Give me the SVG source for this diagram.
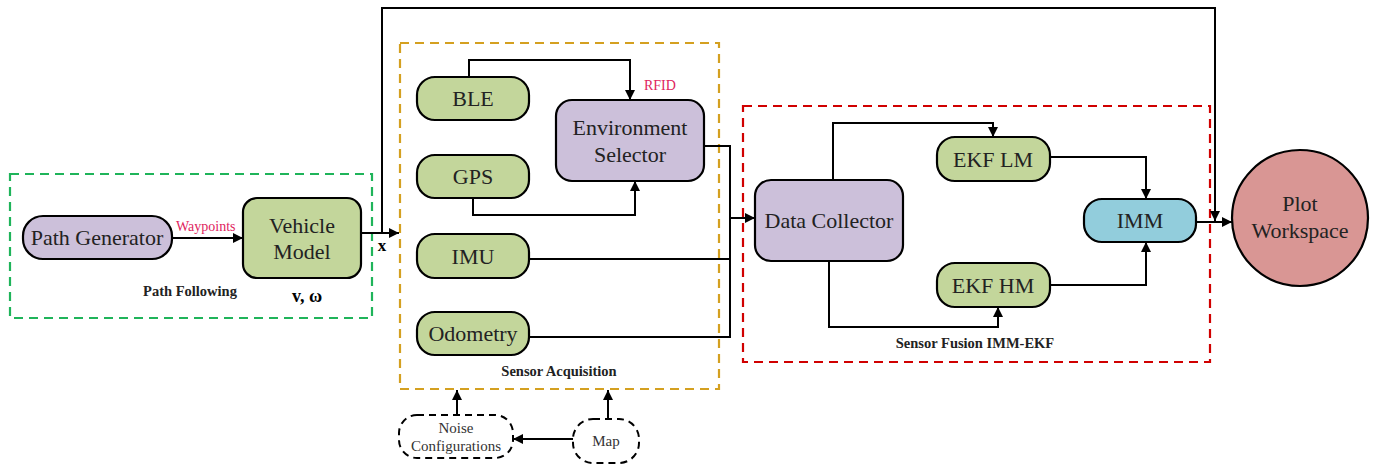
<svg xmlns="http://www.w3.org/2000/svg" width="1377" height="468" viewBox="0 0 1377 468" font-family="'Liberation Serif', 'Times New Roman', serif">
<style>
.n{stroke:#000;stroke-width:2.2}
.g{fill:#c3d69b}.p{fill:#ccc0da}.b{fill:#92cddc}
.t{font-size:22px;fill:#222;text-anchor:middle}
.s{font-size:15px;fill:#333;text-anchor:middle}
.l{font-size:14.5px;font-weight:bold;fill:#222;text-anchor:middle}
.r{font-size:14px;fill:#e0245e}
.c{fill:none;stroke:#000;stroke-width:2}
.grp{fill:none;stroke-width:2.2;stroke-dasharray:9 6}
.dn{fill:#fff;stroke:#000;stroke-width:2;stroke-dasharray:7 5}
</style>
<defs>
<marker id="a" viewBox="0 0 10 10" refX="10" refY="5" markerWidth="10" markerHeight="10" markerUnits="userSpaceOnUse" orient="auto"><path d="M0,0 L10,5 L0,10 z" fill="#000"/></marker>
</defs>
<rect width="1377" height="468" fill="#fff"/>
<g id="groups">
<rect class="grp" x="10" y="174" width="362" height="144" stroke="#1fb45a"/>
<rect class="grp" x="400" y="43" width="319" height="346" stroke="#d4a020"/>
<rect class="grp" x="743" y="106" width="467" height="256" stroke="#d00000"/>
<text class="l" x="190" y="296">Path Following</text>
<text class="l" x="559" y="376">Sensor Acquisition</text>
<text class="l" x="975" y="348">Sensor Fusion IMM-EKF</text>
</g>
<g id="connectors">
<line class="c" x1="172" y1="238" x2="243" y2="238" marker-end="url(#a)"/>
<text class="r" x="176" y="231">Waypoints</text>
<line class="c" x1="361" y1="233" x2="399" y2="233" marker-end="url(#a)"/>
<polyline class="c" points="382,233 382,8 1215,8 1215,221" marker-end="url(#a)"/>
<polyline class="c" points="469,77 469,60 630,60 630,100" marker-end="url(#a)"/>
<text class="r" x="644" y="90">RFID</text>
<polyline class="c" points="473,198 473,215 635,215 635,181" marker-end="url(#a)"/>
<polyline class="c" points="704,146 730,146 730,337 529,337"/>
<line class="c" x1="529" y1="259" x2="730" y2="259"/>
<line class="c" x1="730" y1="218" x2="755" y2="218" marker-end="url(#a)"/>
<polyline class="c" points="833,180 833,123 993,123 993,137" marker-end="url(#a)"/>
<polyline class="c" points="829,261 829,327 998,327 998,307" marker-end="url(#a)"/>
<polyline class="c" points="1050,157 1146,157 1146,199" marker-end="url(#a)"/>
<polyline class="c" points="1050,285 1146,285 1146,242" marker-end="url(#a)"/>
<line class="c" x1="1196" y1="222" x2="1232" y2="222" marker-end="url(#a)"/>
<line class="c" x1="457" y1="415" x2="457" y2="390" marker-end="url(#a)"/>
<line class="c" x1="608" y1="419" x2="608" y2="390" marker-end="url(#a)"/>
<line class="c" x1="574" y1="439" x2="513" y2="439" marker-end="url(#a)"/>
<text x="382" y="251" font-size="17" font-weight="bold" text-anchor="middle">x</text>
<text x="307" y="302" font-size="18" font-weight="bold" text-anchor="middle">v, ω</text>
</g>
<g id="path-generator"><rect class="n p" x="23" y="216" width="149" height="43" rx="20"/><text class="t" x="97" y="245">Path Generator</text></g>
<g id="vehicle-model"><rect class="n g" x="243" y="198" width="118" height="80" rx="14"/><text class="t" x="302" y="233">Vehicle</text><text class="t" x="302" y="259">Model</text></g>
<g id="ble"><rect class="n g" x="417" y="77" width="112" height="43" rx="18"/><text class="t" x="473" y="106">BLE</text></g>
<g id="gps"><rect class="n g" x="417" y="155" width="112" height="43" rx="18"/><text class="t" x="473" y="184">GPS</text></g>
<g id="imu"><rect class="n g" x="417" y="234" width="112" height="44" rx="18"/><text class="t" x="473" y="264">IMU</text></g>
<g id="odometry"><rect class="n g" x="417" y="312" width="112" height="43" rx="18"/><text class="t" x="473" y="341">Odometry</text></g>
<g id="environment-selector"><rect class="n p" x="556" y="100" width="148" height="81" rx="16"/><text class="t" x="630" y="135">Environment</text><text class="t" x="630" y="162">Selector</text></g>
<g id="data-collector"><rect class="n p" x="755" y="180" width="148" height="81" rx="16"/><text class="t" x="829" y="228">Data Collector</text></g>
<g id="ekf-lm"><rect class="n g" x="937" y="137" width="113" height="44" rx="18"/><text class="t" x="993" y="167">EKF LM</text></g>
<g id="ekf-hm"><rect class="n g" x="937" y="263" width="113" height="44" rx="18"/><text class="t" x="993" y="293">EKF HM</text></g>
<g id="imm"><rect class="n b" x="1084" y="199" width="112" height="43" rx="18"/><text class="t" x="1140" y="228">IMM</text></g>
<g id="plot-workspace"><circle class="n" cx="1300" cy="218" r="68" fill="#d99694"/><text class="t" x="1300" y="211">Plot</text><text class="t" x="1300" y="238">Workspace</text></g>
<g id="noise-configurations"><rect class="dn" x="399" y="415" width="114" height="43" rx="18"/><text class="s" x="456" y="433">Noise</text><text class="s" x="456" y="451">Configurations</text></g>
<g id="map"><rect class="dn" x="573" y="419" width="66" height="44" rx="20"/><text class="s" x="606" y="446">Map</text></g>
</svg>
